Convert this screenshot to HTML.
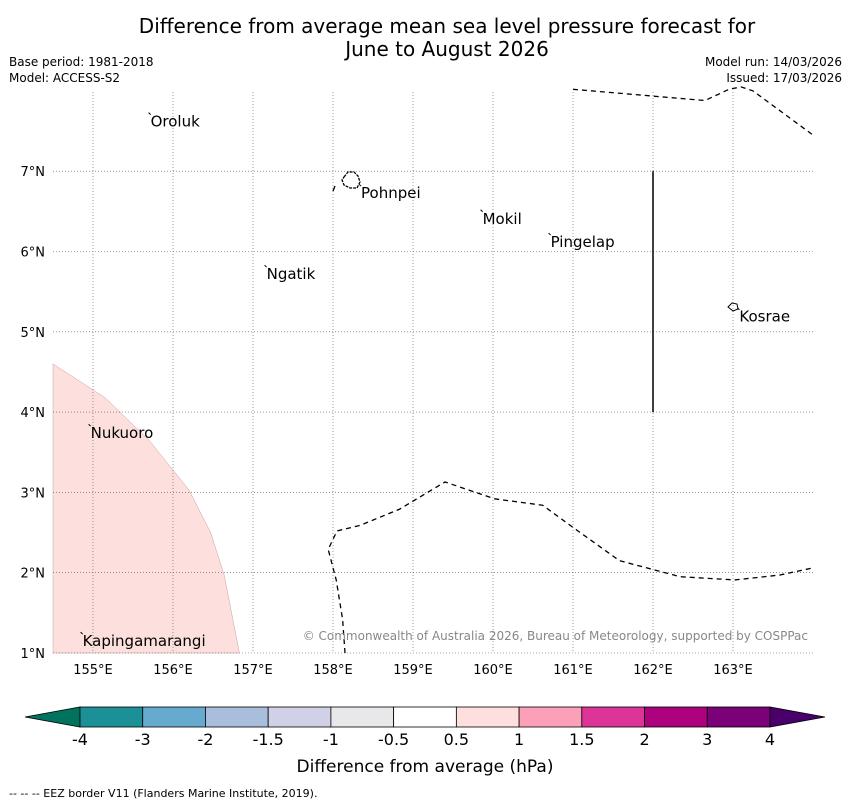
<!DOCTYPE html>
<html><head><meta charset="utf-8"><style>
body{margin:0;background:#fff;}
svg text{font-family:"DejaVu Sans","Liberation Sans",sans-serif;}
</style></head><body>
<svg id="c" width="850" height="804" xmlns="http://www.w3.org/2000/svg">
<text x="447" y="33" font-size="20" text-anchor="middle">Difference from average mean sea level pressure forecast for</text>
<text x="447" y="56" font-size="20" text-anchor="middle">June to August 2026</text>
<text x="9" y="66" font-size="12">Base period: 1981-2018</text>
<text x="9" y="82" font-size="12">Model: ACCESS-S2</text>
<text x="842" y="66" font-size="12" text-anchor="end">Model run: 14/03/2026</text>
<text x="842" y="82" font-size="12" text-anchor="end">Issued: 17/03/2026</text>
<g id="map"></g>
<g id="cbar"></g>
<text x="425" y="772" font-size="17" text-anchor="middle">Difference from average (hPa)</text>
<text x="9" y="797" font-size="11">--  --  -- EEZ border V11 (Flanders Marine Institute, 2019).</text>
</svg>
<script>
const lonTicks=[155,156,157,158,159,160,161,162,163];
const latTicks=[1,2,3,4,5,6,7];
const places=[["Oroluk",155.72,7.63],["Pohnpei",158.35,6.74],["Mokil",159.87,6.42],["Pingelap",160.72,6.13],["Ngatik",157.17,5.73],["Kosrae",163.08,5.2],["Nukuoro",154.97,3.75],["Kapingamarangi",154.87,1.16]];
const cbLevels=["-4","-3","-2","-1.5","-1","-0.5","0.5","1","1.5","2","3","4"];
const cbColors=["#1b9096","#67aad0","#a9bedc","#d0d1e6","#e8e7ea","#ffffff","#fde0dd","#fba0b8","#dd3497","#ae017e","#7a0177"];
const anomalyLon=[154.5,155.15,155.7,156.2,156.47,156.64,156.83,154.5];
const anomalyLat=[4.6,4.18,3.65,3.03,2.5,1.97,1,1];
const eezTopLon=[161,162.65,162.95,163.1,163.25,164];
const eezTopLat=[8.02,7.88,8.02,8.05,8.0,7.45];
const eezBotLon=[158.15,158.12,158.04,157.94,158.05,158.34,158.83,159.4,160.02,160.62,161.02,161.58,162.34,163.02,163.58,164];
const eezBotLat=[1,1.42,1.91,2.29,2.52,2.59,2.79,3.13,2.92,2.84,2.55,2.15,1.95,1.91,1.97,2.06];
const NS='http://www.w3.org/2000/svg';
const X0=53,X1=815,Y0=92,Y1=653;
const xs=l=>53+(l-154.5)*80, ys=a=>653-(a-1)*80.3;
function mk(t,a,p){const e=document.createElementNS(NS,t);for(const k in a)e.setAttribute(k,a[k]);(p||map).appendChild(e);return e;}
const map=document.getElementById('map');
const poly=mk('polygon',{points:anomalyLon.map((l,i)=>xs(l)+','+ys(anomalyLat[i])).join(' '),fill:'#fde0dd',stroke:'#c9a0a0','stroke-width':0.5});


lonTicks.forEach(l=>{const x=xs(l);
 const g=mk('line',{x1:x,x2:x,y1:Y0,y2:Y1,stroke:'#555','stroke-width':0.6,'stroke-dasharray':'1,2'});
 
 const t=mk('text',{x:x,y:674,'font-size':13,'text-anchor':'middle'});t.textContent=l+'°E';
 });
latTicks.forEach(a=>{const y=ys(a);
 const g=mk('line',{x1:X0,x2:X1,y1:y,y2:y,stroke:'#555','stroke-width':0.6,'stroke-dasharray':'1,2'});
 
 const t=mk('text',{x:45,y:y+5,'font-size':13,'text-anchor':'end'});t.textContent=a+'°N';
 });
const e1=mk('polyline',{points:eezTopLon.map((l,i)=>xs(l)+','+ys(eezTopLat[i])).join(' '),fill:'none',stroke:'#000','stroke-width':1.3,'stroke-dasharray':'5,4'});

const e2=mk('polyline',{points:eezBotLon.map((l,i)=>xs(l)+','+ys(eezBotLat[i])).join(' '),fill:'none',stroke:'#000','stroke-width':1.3,'stroke-dasharray':'5,4'});

const vl=mk('line',{x1:xs(162),x2:xs(162),y1:ys(7),y2:ys(4),stroke:'#000','stroke-width':1.5});

mk('line',{x1:333,y1:191,x2:335,y2:186,stroke:'#000','stroke-width':1.3});
const ph=mk('path',{d:'M344,177 L348,172 L354,172 L358,176 L360,182 L357,188 L350,188 L344,185 L342,180 Z',fill:'none',stroke:'#000','stroke-width':1.3,'stroke-dasharray':'3,1'});

const ks=mk('path',{d:'M728,307 L732,303 L737,304 L738,309 L733,311 Z',fill:'none',stroke:'#000','stroke-width':1});

places.forEach(p=>{const x=xs(p[1]),y=ys(p[2]);
 mk('line',{x1:x-2,y1:y-8,x2:x,y2:y-6,stroke:'#000','stroke-width':1});
 const t=mk('text',{x:x,y:y+6,'font-size':15});t.textContent=p[0];
 });
const cr=mk('text',{x:808,y:640,'font-size':12,'text-anchor':'end',fill:'#888'});cr.textContent='© Commonwealth of Australia 2026, Bureau of Meteorology, supported by COSPPac';

const cb=document.getElementById('cbar');
const cx0=80,cw=(770-80)/11,cy=707,ch=20;
const lt=mk('polygon',{points:`${cx0},${cy} ${cx0},${cy+ch} 25,${cy+ch/2}`,fill:'#00735f',stroke:'#000','stroke-width':0.8},cb);

const rt=mk('polygon',{points:`770,${cy} 770,${cy+ch} 825,${cy+ch/2}`,fill:'#49006a',stroke:'#000','stroke-width':0.8},cb);

cbColors.forEach((c,i)=>{const r=mk('rect',{x:cx0+i*cw,y:cy,width:cw,height:ch,fill:c,stroke:'#000','stroke-width':0.8},cb);
 });
cbLevels.forEach((v,i)=>{const t=mk('text',{x:cx0+i*cw,y:745,'font-size':16,'text-anchor':'middle'},cb);t.textContent=v;
 });
</script>
</body></html>
